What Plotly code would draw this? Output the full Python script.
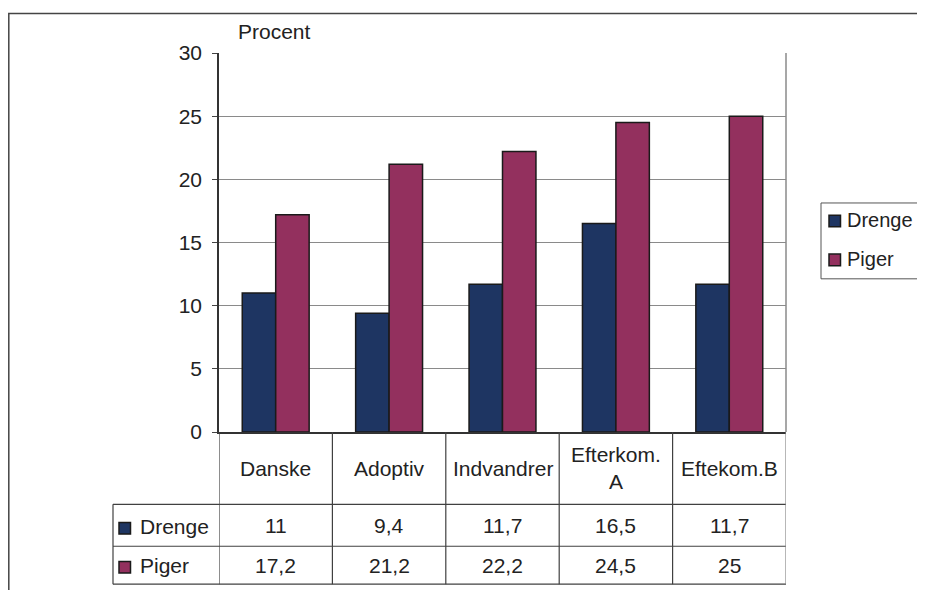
import plotly.graph_objects as go

categories = ["Danske", "Adoptiv", "Indvandrer", "Efterkom.<br>A", "Eftekom.B"]
series_names = ["Drenge", "Piger"]
drenge = [11, 9.4, 11.7, 16.5, 11.7]
piger = [17.2, 21.2, 22.2, 24.5, 25]
y_ticks = [0, 5, 10, 15, 20, 25, 30]
y_title = "Procent"

colors = ["#1e3562", "#93305e"]
FONT = "Liberation Sans, Arial, sans-serif"
FS = 21
TXT = "#222222"
# page body has an 8px margin; figure sized to fit the window exactly
OX, OY = 8, 8
W, H = 925 - 2 * OX, 598 - 2 * OY
# plot area in window pixel coordinates
L, R, T, B = 219, 786, 52.7, 432.5


def px(x):
    return (x - L) / (R - L)


def py(y):
    return (B - y) / (B - T)


def fmt(v):
    return ("%g" % v).replace(".", ",")


xs = list(range(len(categories)))
fig = go.Figure()
for name, vals, col in zip(series_names, [drenge, piger], colors):
    fig.add_trace(go.Bar(x=xs, y=vals, name=name,
                         marker=dict(color=col, line=dict(color="#1a1a1a", width=1.5))))

fig.update_layout(
    width=W, height=H,
    margin=dict(l=L - OX, r=W - (R - OX), t=T - OY, b=H - (B - OY), pad=0),
    paper_bgcolor="white", plot_bgcolor="white",
    barmode="group", bargap=0.41, bargroupgap=0,
    font=dict(family=FONT, size=FS, color=TXT),
    showlegend=False,
)
fig.update_xaxes(range=[-0.5, len(categories) - 0.5], showticklabels=False, ticks="",
                 showgrid=False, showline=True, linecolor="#333", linewidth=1.5, zeroline=False)
fig.update_yaxes(range=[0, 30], tickvals=y_ticks, ticks="outside", ticklen=5, tickcolor="#444",
                 showgrid=True, gridcolor="#8a8a8a", gridwidth=1, showline=True, linecolor="#333",
                 linewidth=1.5, zeroline=False, ticklabelstandoff=6,
                 tickfont=dict(family=FONT, size=FS, color=TXT))

shapes = []
annotations = []
line_col = "#404040"
# plot right border
shapes.append(dict(type="line", xref="paper", yref="paper", x0=1, x1=1, y0=0, y1=1,
                   line=dict(color="#8a8a8a", width=1.5)))
# outer chart border
shapes.append(dict(type="rect", xref="paper", yref="paper", x0=px(8.8), x1=px(960), y0=py(13), y1=py(640),
                   line=dict(color="#444", width=1.5), layer="below"))
# table
y_cat, y_r1, y_r2, y_r3 = py(433), py(505), py(547), py(585)
for yy in [y_r1, y_r2, y_r3]:
    shapes.append(dict(type="line", xref="paper", yref="paper", x0=px(113), x1=1, y0=yy, y1=yy,
                       line=dict(color=line_col, width=1.2)))
shapes.append(dict(type="line", xref="paper", yref="paper", x0=px(113), x1=px(113), y0=y_r1, y1=y_r3,
                   line=dict(color=line_col, width=1.2)))
for i in range(len(categories) + 1):
    xv = i - 0.5
    shapes.append(dict(type="line", xref="x", yref="paper", x0=xv, x1=xv, y0=0, y1=y_r3,
                       line=dict(color="#888" if i == len(categories) else line_col, width=1.2)))

for i, c in enumerate(categories):
    annotations.append(dict(x=i, y=(y_cat + y_r1) / 2, xref="x", yref="paper", text=c, showarrow=False,
                            xanchor="center", yanchor="middle", font=dict(family=FONT, size=FS, color=TXT)))
for row_vals, yy0, yy1 in [(drenge, y_r1, y_r2), (piger, y_r2, y_r3)]:
    for i, v in enumerate(row_vals):
        annotations.append(dict(x=i, y=(yy0 + yy1) / 2, xref="x", yref="paper", text=fmt(v), showarrow=False,
                                xanchor="center", yanchor="middle", font=dict(family=FONT, size=FS, color=TXT)))


def swatch(xl, yc, col):
    shapes.append(dict(type="rect", xref="paper", yref="paper", x0=px(xl), x1=px(xl + 11.5),
                       y0=py(yc - 5.8), y1=py(yc + 5.8), fillcolor=col, line=dict(color="#1a1a1a", width=1.5)))


# table row headers
for name, col, yc in [(series_names[0], colors[0], 529), (series_names[1], colors[1], 568)]:
    swatch(119, yc, col)
    annotations.append(dict(x=px(138), y=py(yc - 2), xref="paper", yref="paper", text=name, showarrow=False,
                            xanchor="left", yanchor="middle", font=dict(family=FONT, size=FS, color=TXT)))

# legend box
shapes.append(dict(type="rect", xref="paper", yref="paper", x0=px(821), x1=px(990), y0=py(203), y1=py(279),
                   line=dict(color="#555", width=1), fillcolor="white"))
for name, col, yc in [(series_names[0], colors[0], 221), (series_names[1], colors[1], 260)]:
    swatch(829, yc, col)
    annotations.append(dict(x=px(845), y=py(yc - 1), xref="paper", yref="paper", text=name, showarrow=False,
                            xanchor="left", yanchor="middle", font=dict(family=FONT, size=FS - 1, color=TXT)))

annotations.append(dict(x=px(236), y=py(31), xref="paper", yref="paper", text=y_title, showarrow=False,
                        xanchor="left", yanchor="middle", font=dict(family=FONT, size=FS, color=TXT)))

fig.update_layout(shapes=shapes, annotations=annotations)
fig.write_html("out.html")
